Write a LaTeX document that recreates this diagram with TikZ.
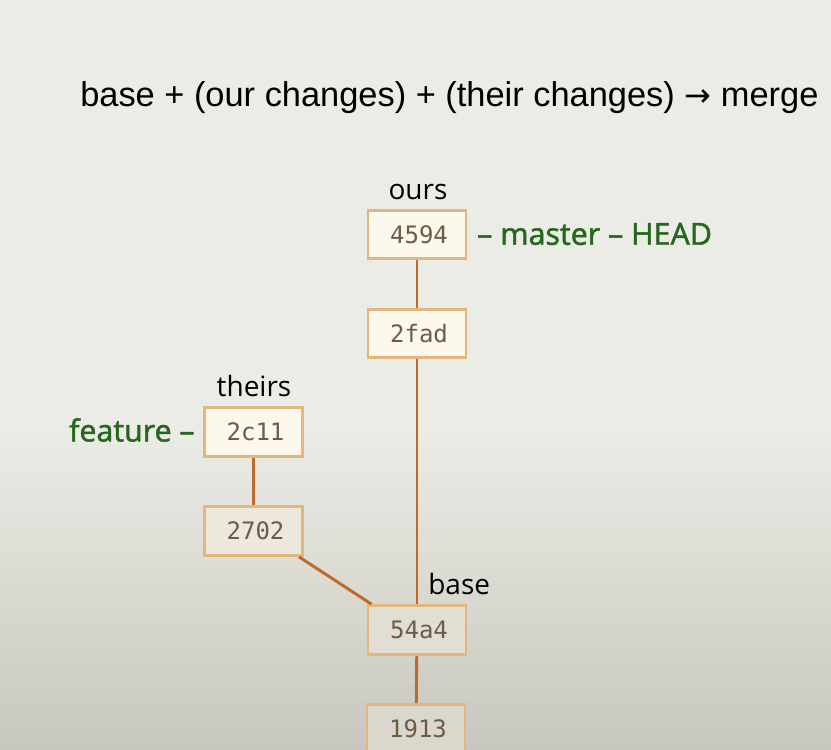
\documentclass[tikz,border=0pt]{standalone}
\usepackage{fontspec}
\setmainfont{Open Sans}
\newfontfamily\titlefont{Liberation Sans}
\newfontfamily\arrowfont{DejaVu Sans}
\newfontfamily\hashfont{DejaVu Sans Mono}
\newfontfamily\branchfont[FakeBold=1.6]{Open Sans}
\definecolor{bgtop}{HTML}{ECECE6}
\definecolor{bgbot}{HTML}{C7C7BF}
\definecolor{boxedge}{HTML}{E2B77E}
\definecolor{edgeline}{HTML}{C0692A}
\definecolor{hashtext}{HTML}{6B5C48}
\definecolor{refgreen}{HTML}{27661E}
\definecolor{fillA}{HTML}{FDF8EC}
\definecolor{fillB}{HTML}{ECE8DD}
\definecolor{fillC}{HTML}{E3DED3}
\definecolor{fillD}{HTML}{DCD7CC}
\begin{document}
\begin{tikzpicture}[x=0.75pt,y=-0.75pt,
  commit/.style={draw=boxedge,line width=2.2pt,minimum width=73.5pt,minimum height=36.5pt,
    inner sep=0pt,text=hashtext,font=\hashfont\fontsize{18}{20}\selectfont},
  link/.style={draw=edgeline,line width=2.2pt},
  tag/.style={font=\fontsize{21}{24}\selectfont,text=black,inner sep=0pt},
  branch/.style={font=\branchfont\fontsize{22.8}{26}\selectfont,text=refgreen,inner sep=0pt}]
\useasboundingbox (0,0) rectangle (831,749);
\fill[bgtop] (0,0) rectangle (831,430);
\shade[top color=bgtop,bottom color=bgbot] (0,429) rectangle (831,749);
\node[inner sep=0pt,anchor=base west,font=\titlefont\fontsize{25.8}{28}\selectfont] (title) at (80,106)
  {base + (our changes) + (their changes) {\arrowfont\fontsize{24}{26}\selectfont →} merge};
\node[commit,fill=fillA] (c4594) at (417,234.5) {\hspace{3pt}4594};
\node[commit,fill=fillA] (c2fad) at (417,333.5) {\hspace{3pt}2fad};
\node[commit,fill=fillA] (c2c11) at (253.5,432) {\hspace{3pt}2c11};
\node[commit,fill=fillB] (c2702) at (253.5,531) {\hspace{3pt}2702};
\node[commit,fill=fillC] (c54a4) at (417,630) {\hspace{3pt}54a4};
\node[commit,fill=fillD] (c1913) at (416,729) {\hspace{3pt}1913};
\draw[link] (c4594) -- (c2fad);
\draw[link] (c2fad) -- (c54a4);
\draw[link] (c2c11) -- (c2702);
\path (c2702.south east) ++(-5,0) coordinate (a1) (c54a4.north west) ++(5,0) coordinate (a2);
\draw[link] (a1) -- (a2);
\draw[link] (c54a4) -- (c1913);
\node[tag,anchor=base] (ours) at (418,199) {ours};
\node[tag,anchor=base] (theirs) at (254,396) {theirs};
\node[tag,anchor=base west] (base) at (428,594) {base};
\node[branch,anchor=west] (master) at (477,234) {– master – HEAD};
\node[branch,anchor=east] (feature) at (195,430) {feature –};
\end{tikzpicture}
\end{document}
